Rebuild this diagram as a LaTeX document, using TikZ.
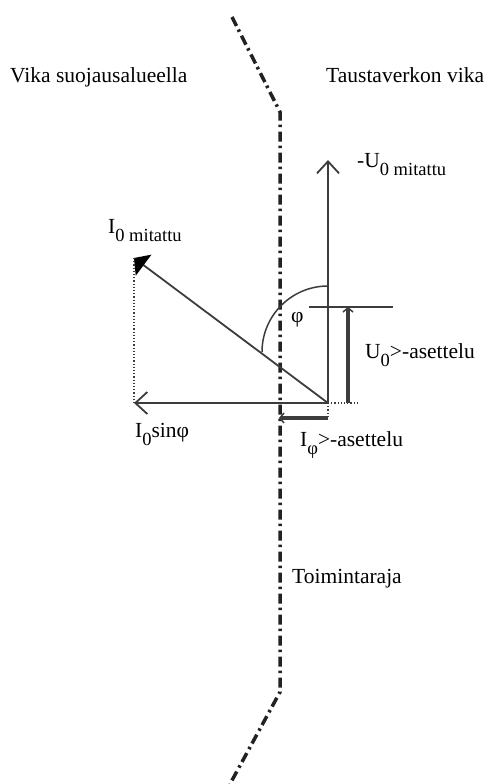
\documentclass[tikz,border=0pt]{standalone}
\usepackage{fontspec}
\setmainfont{Liberation Serif}
\usetikzlibrary{arrows.meta}

\definecolor{vecgray}{HTML}{3C3C3C}
\definecolor{limitgray}{HTML}{222222}
\newcommand{\lowsub}[1]{\raisebox{-8pt}{\fontsize{18.5}{18.5}\selectfont #1}}

\tikzset{
  label/.style={inner sep=0pt, anchor=base west, font=\fontsize{21.5}{24}\selectfont},
  vec/.style={draw=vecgray, line width=1.8pt, -{Straight Barb[length=12pt,width=22pt,line width=1.8pt]}},
  measured/.style={draw=vecgray, line width=1.8pt, -{Triangle[length=12pt,width=26pt,color=black]}},
  setting/.style={draw=vecgray, line width=3.5pt, -{Straight Barb[length=4pt,width=10pt,line width=1.5pt]}},
  guide/.style={draw=vecgray, line width=1.2pt, dotted},
  thin/.style={draw=vecgray, line width=1.5pt},
  limit/.style={draw=limitgray, line width=3.5pt, line cap=butt,
    dash pattern=on 10pt off 4pt on 2.5pt off 4.5pt}
}

\begin{document}
\begin{tikzpicture}[x=1pt, y=-1pt]
    \useasboundingbox (0,0) rectangle (491,784);

    % trip limit
    \coordinate (lim1) at (232,17);
    \coordinate (lim2) at (280,112);
    \coordinate (lim3) at (280,692);
    \coordinate (lim4) at (230,784);
    \draw[limit] (lim1) -- (lim2) -- (lim3) -- (lim4);

    % phasors
    \coordinate (O) at (328,403);
    \coordinate (Utop) at (328,160);
    \coordinate (Itip) at (134,258);
    \coordinate (Iproj) at (134,403);
    \coordinate (Oright) at (358,403);
    \coordinate (Odown) at (328,418);

    \draw[vec] (O) -- (Utop);
    \draw[vec] (O) -- (Iproj);
    \draw[measured] (O) -- (Itip);
    \draw[guide] (Itip) -- (Iproj);
    \draw[guide] (O) -- (Oright);
    \draw[guide] (O) -- (Odown);

    % angle
    \coordinate (arcstart) at (328,286);
    \draw[thin] (arcstart) arc[start angle=90, end angle=180, radius=66pt];

    % settings
    \coordinate (levelL) at (309,307);
    \coordinate (levelR) at (393,307);
    \coordinate (Ubase) at (348,403);
    \coordinate (Ulevel) at (348,307);
    \coordinate (Iset) at (279,418);
    \draw[thin] (levelL) -- (levelR);
    \draw[setting] (Ubase) -- (Ulevel);
    \draw[setting] (Odown) -- (Iset);

    % texts
    \node[label] (inside) at (10,82) {Vika suojausalueella};
    \node[label] (outside) at (326,82) {Taustaverkon vika};
    \node[label] (Ulab) at (357,167) {-U\lowsub{0 mitattu}};
    \node[label] (Ilab) at (108,233) {I\lowsub{0 mitattu}};
    \node[label] (philab) at (291,322) {φ};
    \node[label] (Usetlab) at (365,358) {U\lowsub{0}>-asettelu};
    \node[label] (sinlab) at (135,437) {I\lowsub{0}sinφ};
    \node[label] (Isetlab) at (300,446) {I\lowsub{φ}>-asettelu};
    \node[label] (limlab) at (292,583) {Toimintaraja};
\end{tikzpicture}
\end{document}
